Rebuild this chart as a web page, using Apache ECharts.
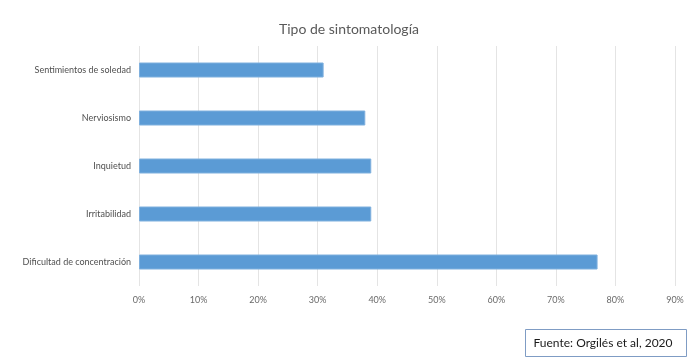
<!DOCTYPE html>
<html>
<head>
<meta charset="utf-8">
<script src="https://cdn.jsdelivr.net/npm/echarts@6/dist/echarts.min.js"></script>
<style>
  html, body { margin: 0; padding: 0; background: #fff; }
  #chart { width: 698px; height: 362px; }
</style>
</head>
<body>
<div id="chart"></div>
<script>
// categories bottom to top, like the picture read upwards
const categories = ['Dificultad de concentración', 'Irritabilidad', 'Inquietud', 'Nerviosismo', 'Sentimientos de soledad']
const values = [77, 39, 39, 38, 31]
const xTicks = [0, 10, 20, 30, 40, 50, 60, 70, 80, 90]

const chart = echarts.init(document.getElementById('chart'))
chart.setOption({
  animation: false,
  textStyle: { fontFamily: 'Lato, "Noto Sans", sans-serif' },
  title: {
    text: 'Tipo de sintomatología',
    left: 'center',
    top: 17,
    textStyle: { fontSize: 14, fontWeight: 'normal', color: '#595959' }
  },
  grid: { left: 139, right: 23, top: 46, height: 240 },
  xAxis: {
    type: 'value',
    min: xTicks[0],
    max: xTicks[xTicks.length - 1],
    interval: 10,
    axisLine: { show: false },
    axisTick: { show: false },
    splitLine: { lineStyle: { color: '#e4e4e4', width: 1 } },
    axisLabel: { formatter: '{value}%', fontSize: 9, color: '#6a6a6a', margin: 10 }
  },
  yAxis: {
    type: 'category',
    data: categories,
    axisLine: { show: false },
    axisTick: { show: false },
    axisLabel: { fontSize: 9, color: '#505050', margin: 8 }
  },
  series: [{
    type: 'bar',
    data: values,
    barWidth: 15,
    itemStyle: { color: '#5b9bd5', borderColor: '#7fb0de', borderWidth: 1 }
  }],
  graphic: [{
    type: 'group',
    left: 525,
    top: 329,
    children: [
      { type: 'rect', shape: { x: 0, y: 0, width: 161, height: 27 }, style: { fill: '#fff', stroke: '#7f9cc4', lineWidth: 1 } },
      { type: 'text', x: 8, y: 8, style: { text: 'Fuente: Orgilés et al, 2020', fontSize: 12, fill: '#1a1a1a', fontFamily: 'Lato, "Noto Sans", sans-serif' } }
    ]
  }]
})
</script>
</body>
</html>
